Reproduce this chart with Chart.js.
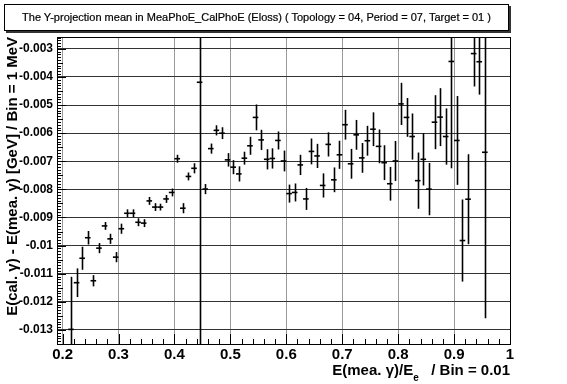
<!DOCTYPE html>
<html>
<head>
<meta charset="utf-8">
<script src="https://cdn.jsdelivr.net/npm/chart.js@4/dist/chart.umd.min.js"></script>
<style>
  html, body { margin: 0; padding: 0; background: #fff; }
  #wrap { position: relative; width: 567px; height: 384px; }
  #title {
    position: absolute; left: 4px; top: 4px; width: 503px; height: 25px;
    border: 1px solid #000; box-shadow: 2px 2px 0 #333; background: #fff;
    font: 11px "Liberation Sans", Arial, sans-serif; line-height: 25px; text-align: center;
    -webkit-text-stroke: 0.2px #000;
  }
</style>
</head>
<body>
<div id="wrap">
  <canvas id="c" width="567" height="384"></canvas>
  <div id="title">The Y-projection mean in MeaPhoE_CalPhoE (Eloss) ( Topology = 04, Period = 07, Target = 01 )</div>
</div>
<script>
// bin centres, E(mea.)/E_e
var binCenters = [0.215, 0.225, 0.235, 0.245, 0.255, 0.265, 0.275, 0.285, 0.295, 0.305,
  0.315, 0.325, 0.335, 0.345, 0.355, 0.365, 0.375, 0.385, 0.395, 0.405,
  0.415, 0.425, 0.435, 0.445, 0.455, 0.465, 0.475, 0.485, 0.495, 0.505,
  0.515, 0.525, 0.535, 0.545, 0.555, 0.565, 0.575, 0.585, 0.595, 0.605,
  0.615, 0.625, 0.635, 0.645, 0.655, 0.665, 0.675, 0.685, 0.695, 0.705,
  0.715, 0.725, 0.735, 0.745, 0.755, 0.765, 0.775, 0.785, 0.795, 0.805,
  0.815, 0.825, 0.835, 0.845, 0.855, 0.865, 0.875, 0.885, 0.895, 0.905,
  0.915, 0.925, 0.935, 0.945, 0.955];
// mean of Y projection [GeV]
var meanValues = [-0.01298, -0.01132, -0.01045, -0.00972, -0.01125, -0.01009, -0.00930, -0.00976, -0.01041, -0.00940,
  -0.00885, -0.00885, -0.00917, -0.00920, -0.00841, -0.00863, -0.00863, -0.00834, -0.00811, -0.00691,
  -0.00867, -0.00754, -0.00725, -0.00419, -0.00799, -0.00655, -0.00590, -0.00600, -0.00695, -0.00721,
  -0.00745, -0.00689, -0.00645, -0.00544, -0.00624, -0.00693, -0.00690, -0.00626, -0.00699, -0.00815,
  -0.00811, -0.00713, -0.00834, -0.00665, -0.00681, -0.00786, -0.00640, -0.00766, -0.00677, -0.00570,
  -0.00709, -0.00606, -0.00688, -0.00627, -0.00586, -0.00647, -0.00705, -0.00780, -0.00699, -0.00496,
  -0.00544, -0.00612, -0.00769, -0.00693, -0.00799, -0.00561, -0.00543, -0.00612, -0.00345, -0.00626,
  -0.00982, -0.00835, -0.00317, -0.00346, -0.00668];
// error on the mean
var meanErrors = [0.00187, 0.00051, 0.00041, 0.00024, 0.00020, 0.00018, 0.00014, 0.00018, 0.00018, 0.00018,
  0.00014, 0.00014, 0.00014, 0.00014, 0.00014, 0.00014, 0.00012, 0.00014, 0.00014, 0.00014,
  0.00018, 0.00014, 0.00018, 0.01000, 0.00018, 0.00018, 0.00018, 0.00021, 0.00024, 0.00025,
  0.00027, 0.00023, 0.00032, 0.00046, 0.00036, 0.00036, 0.00036, 0.00032, 0.00037, 0.00032,
  0.00032, 0.00036, 0.00039, 0.00046, 0.00043, 0.00043, 0.00043, 0.00044, 0.00050, 0.00053,
  0.00053, 0.00053, 0.00053, 0.00053, 0.00060, 0.00060, 0.00062, 0.00060, 0.00071, 0.00075,
  0.00069, 0.00082, 0.00100, 0.00093, 0.00093, 0.00096, 0.00103, 0.00100, 0.00380, 0.00158,
  0.00146, 0.00160, 0.00117, 0.00117, 0.00590];
var xTickValues = [0.2, 0.3, 0.4, 0.5, 0.6, 0.7, 0.8, 0.9, 1.0];
var yTickValues = [-0.013, -0.012, -0.011, -0.010, -0.009, -0.008, -0.007, -0.006, -0.005, -0.004, -0.003];

var FONT = '"Liberation Sans", Arial, Helvetica, sans-serif';

// vertical error bars, frame, ROOT style inward ticks, x title with subscript
var rootStyle = {
  id: 'rootStyle',
  afterDatasetsDraw: function (chart) {
    var ctx = chart.ctx, xs = chart.scales.x, ys = chart.scales.y, a = chart.chartArea;
    ctx.save();
    ctx.beginPath();
    ctx.rect(a.left, a.top, a.right - a.left, a.bottom - a.top);
    ctx.clip();
    ctx.strokeStyle = '#000';
    ctx.lineWidth = 1.6;
    for (var i = 0; i < binCenters.length; i++) {
      var px = Math.round(xs.getPixelForValue(binCenters[i])) + 0.5;
      ctx.beginPath();
      ctx.moveTo(px, ys.getPixelForValue(meanValues[i] + meanErrors[i]));
      ctx.lineTo(px, ys.getPixelForValue(meanValues[i] - meanErrors[i]));
      ctx.stroke();
    }
    ctx.restore();

    ctx.save();
    ctx.strokeStyle = '#000';
    ctx.lineWidth = 1;
    ctx.strokeRect(Math.round(a.left) + 0.5, Math.round(a.top) + 0.5, Math.round(a.right - a.left), Math.round(a.bottom - a.top));
    ctx.beginPath();
    var v, p, len, k;
    // y ticks: 10 small divisions per label step
    for (k = -136; k <= -25; k++) {
      v = k / 10000;
      if (v < ys.min || v > ys.max) continue;
      p = Math.round(ys.getPixelForValue(v)) + 0.5;
      len = (k % 10 === 0) ? 9 : (k % 5 === 0 ? 6 : 4);
      ctx.moveTo(a.left, p);
      ctx.lineTo(a.left + len, p);
    }
    // x ticks: 5 small divisions per label step
    for (k = 19; k <= 100; k++) {
      if (k % 2 !== 0) continue;
      v = k / 100;
      if (v < xs.min || v > xs.max) continue;
      p = Math.round(xs.getPixelForValue(v)) + 0.5;
      len = (k % 10 === 0) ? 10 : 5;
      ctx.moveTo(p, a.bottom);
      ctx.lineTo(p, a.bottom - len);
    }
    ctx.stroke();

    // x axis title, right aligned to the frame
    ctx.fillStyle = '#000';
    ctx.textBaseline = 'alphabetic';
    ctx.textAlign = 'left';
    var big = 'bold 15px ' + FONT, small = 'bold 10px ' + FONT;
    var p1 = 'E(mea. \u03b3)/E', p2 = 'e', p3 = '   / Bin = 0.01';
    ctx.font = big;
    var w1 = ctx.measureText(p1).width, w3 = ctx.measureText(p3).width;
    ctx.font = small;
    var w2 = ctx.measureText(p2).width;
    var base = 375;
    var x0 = a.right - (w1 + w2 + w3);
    ctx.font = big;
    ctx.fillText(p1, x0, base);
    ctx.font = small;
    ctx.fillText(p2, x0 + w1, base + 6);
    ctx.font = big;
    ctx.fillText(p3, x0 + w1 + w2, base);
    ctx.restore();
  }
};

new Chart(document.getElementById('c'), {
  type: 'scatter',
  data: {
    datasets: [{
      data: binCenters.map(function (x, i) { return { x: x, y: meanValues[i] }; }),
      pointStyle: 'line',
      pointRadius: 2.8,
      pointBorderWidth: 1.6,
      borderColor: '#000',
      backgroundColor: '#000'
    }]
  },
  options: {
    responsive: false,
    animation: false,
    devicePixelRatio: 1,
    layout: { padding: { top: 37, right: 57, left: 0, bottom: 0 } },
    plugins: { legend: { display: false }, tooltip: { enabled: false }, title: { display: false } },
    scales: {
      x: {
        type: 'linear', min: 0.19, max: 1.0,
        afterBuildTicks: function (s) { s.ticks = xTickValues.map(function (v) { return { value: v }; }); },
        afterFit: function (s) { s.height = 40; },
        grid: { color: '#999', borderDash: [1, 2], drawTicks: false, lineWidth: 1 },
        border: { display: false },
        ticks: {
          padding: 2, color: '#000', maxRotation: 0, autoSkip: false,
          font: { family: FONT, size: 15, weight: 'bold' },
          callback: function (v) { return String(Number(v.toFixed(2))); }
        }
      },
      y: {
        type: 'linear', min: -0.0135, max: -0.00258,
        afterBuildTicks: function (s) { s.ticks = yTickValues.map(function (v) { return { value: v }; }); },
        afterFit: function (s) { s.width = 57; },
        grid: { color: '#333', borderDash: [1, 2], drawTicks: false, lineWidth: 1 },
        border: { display: false },
        title: {
          display: true, align: 'end', color: '#000',
          text: 'E(cal. \u03b3) - E(mea. \u03b3) [GeV] / Bin = 1 MeV',
          font: { family: FONT, size: 15, weight: 'bold' },
          padding: { top: 4, bottom: 0 }
        },
        ticks: {
          padding: 4, color: '#000', autoSkip: false,
          font: { family: FONT, size: 12, weight: 'bold' },
          callback: function (v) { return String(Number(v.toFixed(4))); }
        }
      }
    }
  },
  plugins: [rootStyle]
});
</script>
</body>
</html>
